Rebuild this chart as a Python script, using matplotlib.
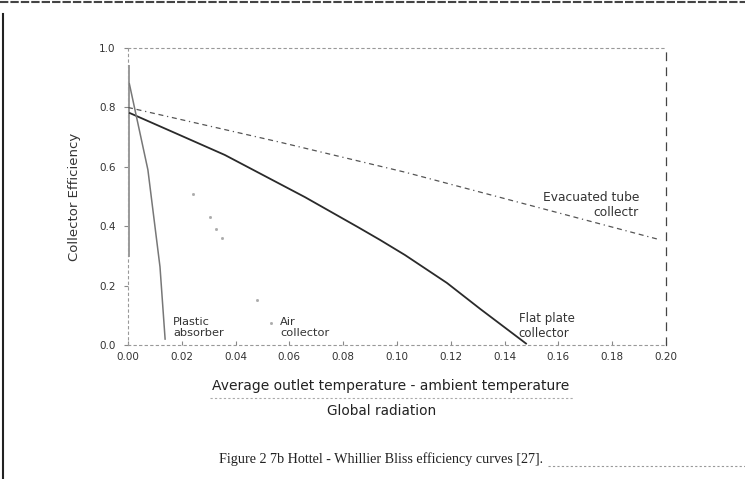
import matplotlib.pyplot as plt

# Datos (scan)
flat_x = [0.0007, 0.018, 0.036, 0.0658, 0.0855, 0.0937, 0.103, 0.1186, 0.1309, 0.148]
flat_y = [0.781, 0.712, 0.640, 0.498, 0.397, 0.354, 0.303, 0.209, 0.122, 0.005]

evac_x = [0.0, 0.0565, 0.103, 0.198]
evac_y = [0.80, 0.683, 0.582, 0.354]

plastic_x = [0.0005, 0.0074, 0.0119, 0.0138]
plastic_y = [0.88, 0.59, 0.263, 0.02]

air_x = [0.024, 0.0305, 0.0327, 0.035, 0.048, 0.053]
air_y = [0.51, 0.43, 0.39, 0.36, 0.15, 0.074]

edge_x = [0.0003, 0.0003]
edge_y = [0.94, 0.30]

x_ticks = [0.00, 0.02, 0.04, 0.06, 0.08, 0.10, 0.12, 0.14, 0.16, 0.18, 0.20]
x_labels = ["0.00", "0.02", "0.04", "0.06", "0.08", "0.10", "0.12", "0.14", "0.16", "0.18", "0.20"]
y_ticks = [0.0, 0.2, 0.4, 0.6, 0.8, 1.0]
y_labels = ["0.0", "0.2", "0.4", "0.6", "0.8", "1.0"]

fig = plt.figure(figsize=(7.45, 4.79), dpi=100)
ax = fig.add_axes([0.1718, 0.2797, 0.722, 0.620])

ax.plot(edge_x, edge_y, color="#9a9a9a", lw=1.4)
ax.plot(flat_x, flat_y, color="#2a2a2a", lw=1.3)
ax.plot(evac_x, evac_y, color="#555555", lw=0.9, linestyle=(0, (4, 3, 4, 3, 1, 3)))
ax.plot(plastic_x, plastic_y, color="#777777", lw=1.1)
ax.plot(air_x, air_y, linestyle="none", marker="s", markersize=1, color="#aaaaaa")

ax.set_xlim(0, 0.20)
ax.set_ylim(0, 1.0)
ax.set_xticks(x_ticks)
ax.set_xticklabels(x_labels, fontsize=7.5, color="#333333")
ax.set_yticks(y_ticks)
ax.set_yticklabels(y_labels, fontsize=7.5, color="#333333")
ax.tick_params(axis="x", direction="in", length=3, color="#888888", pad=5)
ax.tick_params(axis="y", direction="out", length=3, color="#888888", pad=6)

for lado in ["top", "bottom", "left"]:
    ax.spines[lado].set_linestyle((0, (2, 3)))
    ax.spines[lado].set_color("#999999")
    ax.spines[lado].set_linewidth(0.8)
ax.spines["right"].set_linestyle((0, (6, 6)))
ax.spines["right"].set_color("#444444")
ax.spines["right"].set_linewidth(0.9)

ax.set_ylabel("Collector Efficiency", fontsize=9.5, color="#333333", labelpad=13)

# Etiquetas de las curvas
ax.text(0.0167, 0.095, "Plastic\nabsorber", fontsize=8.2, color="#333333", va="top", linespacing=1.2)
ax.text(0.0565, 0.095, "Air\ncollector", fontsize=8.2, color="#333333", va="top", linespacing=1.2)
ax.text(0.1453, 0.11, "Flat plate\ncollector", fontsize=8.5, color="#333333", va="top", linespacing=1.2)
ax.text(0.19, 0.52, "Evacuated tube\ncollectr", fontsize=8.8, color="#333333", va="top", ha="right",
        multialignment="right", linespacing=1.2)

# Etiqueta del eje x en forma de fracción
fig.text(391 / 745, 1 - 386 / 479, "Average outlet temperature - ambient temperature",
         fontsize=10, color="#222222", ha="center", va="center")
fig.lines.append(plt.Line2D([210 / 745, 573 / 745], [1 - 398 / 479, 1 - 398 / 479], transform=fig.transFigure,
                            color="#aaaaaa", lw=0.8, linestyle=(0, (2, 2))))
fig.text(382 / 745, 1 - 411 / 479, "Global radiation", fontsize=9.8, color="#222222", ha="center", va="center")

# Pie de figura
fig.text(381 / 745, 1 - 459 / 479, "Figure 2 7b Hottel - Whillier Bliss efficiency curves [27].",
         fontsize=10.2, family="Liberation Serif", color="#222222", ha="center", va="center")
fig.lines.append(plt.Line2D([548 / 745, 1.0], [1 - 466 / 479, 1 - 466 / 479], transform=fig.transFigure,
                            color="#999999", lw=0.8, linestyle=(0, (2, 2))))

# Marco de la página escaneada
fig.lines.append(plt.Line2D([0.0, 1.0], [0.996, 0.996], transform=fig.transFigure,
                            color="#444444", lw=1.5, linestyle=(0, (4, 1))))
fig.lines.append(plt.Line2D([0.004, 0.004], [0.0, 0.97], transform=fig.transFigure,
                            color="#222222", lw=1.5))

fig.savefig("out.png", dpi=100)
